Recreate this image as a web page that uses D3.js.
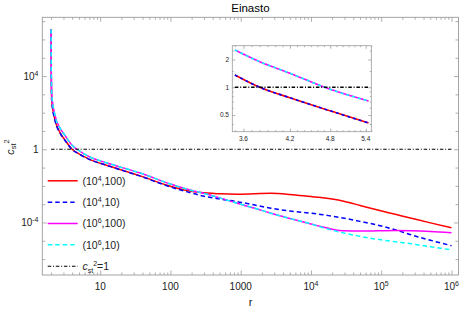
<!DOCTYPE html>
<html>
<head>
<meta charset="utf-8">
<script src="https://cdn.jsdelivr.net/npm/d3@7"></script>
<style>
body{margin:0;background:#fff;}
text{font-family:"Liberation Sans",Arial,sans-serif;}
</style>
</head>
<body>
<svg id="chart" width="463" height="310"></svg>
<script>
const radii=[2.0,2.014,2.042,2.275,2.692,3.162,3.981,5.012,7.079,12.59,37.15,100,158.5,269.2,501.2,891.3,1585,2692,5012,1e4,13800,19950,30200,50120,89130,158500,269200,501200,1e6];
// c_st^2 for (rho, r) pairs
const red=[3.6e6,1e4,490,40,7.9,3.16,1.0,0.56,0.28,0.13,0.035,0.0095,0.006,0.0043,0.0037,0.0035,0.0037,0.0039,0.0034,0.0026,0.0023,0.0019,0.0014,8.5e-4,4.8e-4,2.8e-4,1.7e-4,9.5e-5,5.2e-5];
const blue=[3.6e6,8900,450,37,7.6,3.0,0.98,0.55,0.275,0.129,0.034,0.0087,0.0052,0.003,0.0019,0.00138,8.9e-4,6.0e-4,4.2e-4,3.2e-4,2.75e-4,2.2e-4,1.7e-4,1.15e-4,7.2e-5,4.0e-5,2.1e-5,1.07e-5,5.4e-6];
const magenta=[3.6e6,1.6e4,1000,71,14,5.6,1.66,0.83,0.38,0.178,0.05,0.0126,0.0071,0.0043,0.0022,0.00112,6.0e-4,3.2e-4,1.66e-4,8.3e-5,6.0e-5,4.3e-5,3.5e-5,3.4e-5,3.5e-5,3.6e-5,3.5e-5,3.2e-5,2.75e-5];
const cyan=[3.6e6,1.6e4,1000,71,14,5.6,1.66,0.83,0.38,0.178,0.05,0.0126,0.0071,0.0043,0.0022,0.00112,6.0e-4,3.2e-4,1.66e-4,8.3e-5,5.6e-5,3.8e-5,2.6e-5,1.74e-5,1.2e-5,8.9e-6,6.8e-6,4.7e-6,3.2e-6];
const unitLine=[1,1];
const unitR=[2,1e6];

// inset: zoom near c_st^2 = 1
const insetRadii=[3.5,3.8,4.2,4.8,5.45];
const insetLow=[1.36,1.0,0.77,0.555,0.41];
const insetHigh=[2.53,1.89,1.42,0.95,0.71];
const insetUnitR=[3.5,5.45];

const xTickVals=[10,100,1000,1e4,1e5,1e6];
const xTickLabels=[["10",""],["100",""],["1000",""],["10","4"],["10","5"],["10","6"]];
const yTickVals=[1e4,1,1e-4];
const yTickLabels=[["10","4"],["1",""],["10","-4"]];
const insetXTicks=[3.6,4.2,4.8,5.4];
const insetXLabels=["3.6","4.2","4.8","5.4"];
const insetYTicks=[0.5,1,2];
const insetYLabels=["0.5","1","2"];
const insetYMinor=[0.4,0.6,0.7,0.8,0.9,1.5,2.5];
const legendLabels=[["(10","4",",100)"],["(10","4",",10)"],["(10","6",",100)"],["(10","6",",10)"]];

const frameCol="#9a9a9a", labelCol="#222";
const svg=d3.select("#chart");
const L=42.3,R=458.5,T=17.3,B=275;

const x=d3.scaleLog().domain([Math.pow(10,0.176),Math.pow(10,6.1)]).range([L,R]);
const y=d3.scaleLog().domain([Math.pow(10,-6.87),Math.pow(10,7.21)]).range([B,T]);

function tickAxis(gen,pos,vals,len,col){
  const g=svg.append("g").attr("transform",pos)
    .call(gen.tickValues(vals).tickSize(-len).tickFormat(""));
  g.select(".domain").remove();
  g.selectAll("line").attr("stroke",col||frameCol).attr("stroke-width",0.8);
  return g;
}

// minor x ticks 2..9 per decade
let xMinor=[];
for(let e=0;e<6;e++) for(let m=2;m<10;m++){ const v=m*Math.pow(10,e); if(v>x.domain()[0]&&v<x.domain()[1]) xMinor.push(v); }
const yAll=d3.range(-6,8).map(e=>Math.pow(10,e));
const yMinor=yAll.filter(v=>yTickVals.indexOf(v)<0);

svg.append("rect").attr("x",L).attr("y",T).attr("width",R-L).attr("height",B-T)
  .attr("fill","none").attr("stroke",frameCol).attr("stroke-width",0.9);

tickAxis(d3.axisBottom(x),`translate(0,${B})`,xMinor,2.5);
tickAxis(d3.axisBottom(x),`translate(0,${B})`,xTickVals,4.5);
tickAxis(d3.axisTop(x),`translate(0,${T})`,xMinor,2.5);
tickAxis(d3.axisTop(x),`translate(0,${T})`,xTickVals,4.5);
tickAxis(d3.axisLeft(y),`translate(${L},0)`,yMinor,3);
tickAxis(d3.axisLeft(y),`translate(${L},0)`,yTickVals,4.5);
tickAxis(d3.axisRight(y),`translate(${R},0)`,yMinor,3);
tickAxis(d3.axisRight(y),`translate(${R},0)`,yTickVals,4.5);

// tick labels with superscripts
xTickVals.forEach((v,i)=>{
  const t=svg.append("text").attr("x",x(v)).attr("y",289.5).attr("text-anchor","middle")
    .attr("font-size",10).attr("fill",labelCol);
  t.append("tspan").text(xTickLabels[i][0]);
  if(xTickLabels[i][1]) t.append("tspan").attr("dy",-4).attr("font-size",7).text(xTickLabels[i][1]);
});
yTickVals.forEach((v,i)=>{
  const t=svg.append("text").attr("x",38.5).attr("y",y(v)+3.5).attr("text-anchor","end")
    .attr("font-size",10).attr("fill",labelCol);
  t.append("tspan").text(yTickLabels[i][0]);
  if(yTickLabels[i][1]) t.append("tspan").attr("dy",-4).attr("font-size",7).text(yTickLabels[i][1]);
});

svg.append("text").attr("x",(L+R)/2).attr("y",12).attr("text-anchor","middle")
  .attr("font-size",11.5).attr("fill","#000").text("Einasto");
svg.append("text").attr("x",250.5).attr("y",306).attr("text-anchor","middle")
  .attr("font-size",11).attr("fill",labelCol).text("r");

const yl=svg.append("text").attr("transform","translate(13.5,147) rotate(-90)")
  .attr("text-anchor","middle").attr("font-size",11).attr("fill",labelCol);
yl.append("tspan").attr("font-style","italic").text("c");
yl.append("tspan").attr("font-size",7.5).attr("dy",2.5).text("st");
yl.append("tspan").attr("font-size",7.5).attr("dy",-7).text("2");

const styles=[
  {data:red,col:"#ff0000",dash:null},
  {data:blue,col:"#0000ff",dash:"4.5,3"},
  {data:magenta,col:"#ff00ff",dash:null},
  {data:cyan,col:"#00ffff",dash:"4.5,3"}
];
const dashDot="3.5,1.8,1,1.8";

const line=d3.line().x(d=>x(d[0])).y(d=>y(d[1])).curve(d3.curveMonotoneX);
styles.forEach(s=>{
  svg.append("path").datum(radii.map((r,i)=>[r,s.data[i]]))
    .attr("fill","none").attr("stroke",s.col).attr("stroke-width",1.5)
    .attr("stroke-dasharray",s.dash).attr("d",line);
});
svg.append("path").datum(unitR.map((r,i)=>[r,unitLine[i]]))
  .attr("fill","none").attr("stroke","#000").attr("stroke-width",1.1)
  .attr("stroke-dasharray",dashDot).attr("d",d3.line().x(d=>x(d[0])).y(d=>y(d[1])));

// legend
const lx0=47.7,lx1=77.7,ly0=180.8,ldy=21.35;
styles.forEach((s,i)=>{
  const yy=ly0+i*ldy;
  svg.append("line").attr("x1",lx0).attr("x2",lx1).attr("y1",yy).attr("y2",yy)
    .attr("stroke",s.col).attr("stroke-width",1.5).attr("stroke-dasharray",s.dash);
  const t=svg.append("text").attr("x",82.5).attr("y",yy+3.8).attr("font-size",10.5).attr("fill",labelCol);
  t.append("tspan").text(legendLabels[i][0]);
  t.append("tspan").attr("dy",-4).attr("font-size",7).text(legendLabels[i][1]);
  t.append("tspan").attr("dy",4).text(legendLabels[i][2]);
});
{
  const yy=ly0+4*ldy;
  svg.append("line").attr("x1",lx0).attr("x2",lx1).attr("y1",yy).attr("y2",yy)
    .attr("stroke","#000").attr("stroke-width",1.1).attr("stroke-dasharray",dashDot);
  const t=svg.append("text").attr("x",82.5).attr("y",yy+3.8).attr("font-size",10.5).attr("fill",labelCol);
  t.append("tspan").attr("font-style","italic").text("c");
  t.append("tspan").attr("font-size",7).attr("dy",2.5).text("st");
  t.append("tspan").attr("font-size",7).attr("dy",-7).text("2");
  t.append("tspan").attr("dy",4.5).text("=1");
}

// inset
const iL=232.3,iR=371.3,iT=45.7,iB=131.7;
const ix=d3.scaleLog().domain([3.47,5.5]).range([iL,iR]);
const iy=d3.scaleLog().domain([0.33,2.82]).range([iB,iT]);
svg.append("rect").attr("x",iL).attr("y",iT).attr("width",iR-iL).attr("height",iB-iT)
  .attr("fill","#fff").attr("stroke",frameCol).attr("stroke-width",0.8);
const ixMinor=d3.range(35,56).map(v=>v/10).filter(v=>insetXTicks.indexOf(v)<0);
tickAxis(d3.axisBottom(ix),`translate(0,${iB})`,ixMinor,1.5);
tickAxis(d3.axisBottom(ix),`translate(0,${iB})`,insetXTicks,3);
tickAxis(d3.axisTop(ix),`translate(0,${iT})`,ixMinor,1.5);
tickAxis(d3.axisTop(ix),`translate(0,${iT})`,insetXTicks,3);
tickAxis(d3.axisLeft(iy),`translate(${iL},0)`,insetYMinor,1.5);
tickAxis(d3.axisLeft(iy),`translate(${iL},0)`,insetYTicks,3);
tickAxis(d3.axisRight(iy),`translate(${iR},0)`,insetYMinor,1.5);
tickAxis(d3.axisRight(iy),`translate(${iR},0)`,insetYTicks,3);
insetXTicks.forEach((v,i)=>{
  svg.append("text").attr("x",ix(v)).attr("y",140.5).attr("text-anchor","middle")
    .attr("font-size",6.5).attr("fill",labelCol).text(insetXLabels[i]);
});
insetYTicks.forEach((v,i)=>{
  svg.append("text").attr("x",229).attr("y",iy(v)+2.3).attr("text-anchor","end")
    .attr("font-size",6.5).attr("fill",labelCol).text(insetYLabels[i]);
});
const iline=d3.line().x(d=>ix(d[0])).y(d=>iy(d[1])).curve(d3.curveMonotoneX);
[[insetLow,"#ff0000",null],[insetLow,"#0000ff","3,3"],[insetHigh,"#ff00ff",null],[insetHigh,"#00ffff","3,3"]].forEach(s=>{
  svg.append("path").datum(insetRadii.map((r,i)=>[r,s[0][i]]))
    .attr("fill","none").attr("stroke",s[1]).attr("stroke-width",1.6)
    .attr("stroke-dasharray",s[2]).attr("d",iline);
});
svg.append("path").datum(insetUnitR.map(r=>[r,1]))
  .attr("fill","none").attr("stroke","#000").attr("stroke-width",1.3)
  .attr("stroke-dasharray",dashDot).attr("d",d3.line().x(d=>ix(d[0])).y(d=>iy(d[1])));
</script>
</body>
</html>
